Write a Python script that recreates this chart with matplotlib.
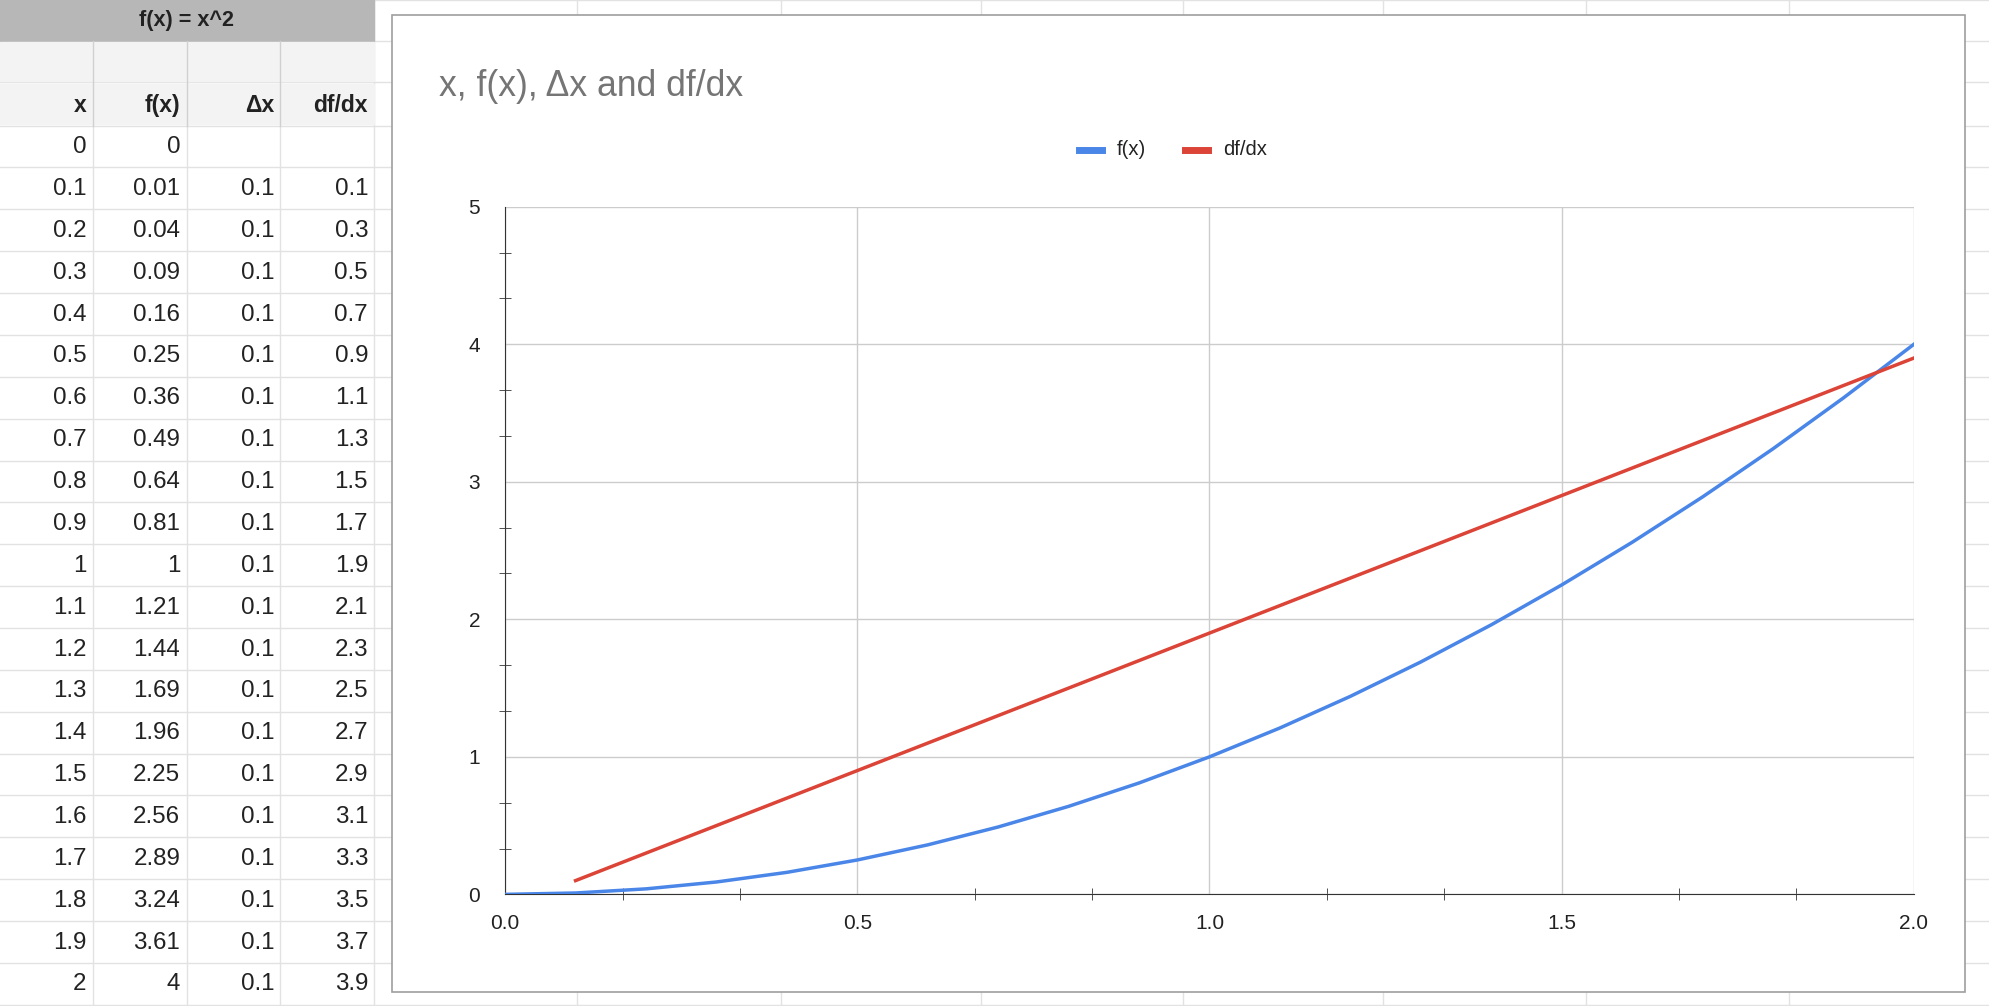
import matplotlib
matplotlib.use("Agg")
import matplotlib.pyplot as plt
from matplotlib.patches import Rectangle
from matplotlib.ticker import MultipleLocator

plt.rcParams['font.family'] = ['Liberation Sans', 'DejaVu Sans']

x_vals = [0, 0.1, 0.2, 0.3, 0.4, 0.5, 0.6, 0.7, 0.8, 0.9, 1, 1.1, 1.2, 1.3, 1.4, 1.5, 1.6, 1.7, 1.8, 1.9, 2]
fx_vals = [0, 0.01, 0.04, 0.09, 0.16, 0.25, 0.36, 0.49, 0.64, 0.81, 1, 1.21, 1.44, 1.69, 1.96, 2.25, 2.56, 2.89, 3.24, 3.61, 4]
dx_vals = [None] + [0.1] * 20
dfdx_vals = [None, 0.1, 0.3, 0.5, 0.7, 0.9, 1.1, 1.3, 1.5, 1.7, 1.9, 2.1, 2.3, 2.5, 2.7, 2.9, 3.1, 3.3, 3.5, 3.7, 3.9]
x_labels = ["0", "0.1", "0.2", "0.3", "0.4", "0.5", "0.6", "0.7", "0.8", "0.9", "1", "1.1", "1.2", "1.3", "1.4", "1.5", "1.6", "1.7", "1.8", "1.9", "2"]
headers = ["x", "f(x)", "Δx", "df/dx"]

W, H = 1990, 1006
S = W / 1568.0
fig = plt.figure(figsize=(W / 100, H / 100), dpi=100)
bg = fig.add_axes([0, 0, 1, 1])
bg.set_xlim(0, 1568); bg.set_ylim(793, 0); bg.axis('off')

def pt(px):
    return px * S * 0.72

grid_c = '#e2e2e2'
for gx in [73, 147, 221, 295, 455, 615, 773, 932, 1090, 1250, 1410, 1568]:
    bg.plot([gx, gx], [0, 793], color=grid_c, lw=1, zorder=1)
rows_y = [0, 32, 65, 99] + [99 + 33 * i for i in range(1, 22)]
for ry in rows_y:
    bg.plot([0, 1568], [ry, ry], color=grid_c, lw=1, zorder=1)
bg.add_patch(Rectangle((0, 0), 295, 32, color='#b7b7b7', zorder=2))
bg.text(147, 16, "f(x) = x^2", ha='center', va='center', fontsize=pt(17), fontweight='bold', color='#222222', zorder=3)
bg.add_patch(Rectangle((0, 33), 295, 31, color='#f3f3f3', zorder=2))
bg.add_patch(Rectangle((0, 66), 295, 32, color='#f3f3f3', zorder=2))
for cx in [73, 147, 221]:
    bg.plot([cx, cx], [32, 99], color='#d0d0d0', lw=1, zorder=2.5)
col_right = [68, 142, 216, 290]
for j, h in enumerate(headers):
    bg.text(col_right[j], 83, h, ha='right', va='center', fontsize=pt(18), fontweight='bold', color='#222222', zorder=3)
for i in range(21):
    yc = 99 + 33 * i + 17
    vals = [x_labels[i], f"{fx_vals[i]:g}",
            "" if dx_vals[i] is None else f"{dx_vals[i]:g}",
            "" if dfdx_vals[i] is None else f"{dfdx_vals[i]:g}"]
    for j, v in enumerate(vals):
        bg.text(col_right[j], yc, v, ha='right', va='center', fontsize=pt(19), color='#222222', zorder=3)

bg.add_patch(Rectangle((309, 12), 1239, 770, facecolor='white', edgecolor='#9e9e9e', lw=1.2, zorder=3))
bg.text(346, 68, "x, f(x), Δx and df/dx", ha='left', va='center', fontsize=pt(28), color='#757575', zorder=4)
bg.plot([850, 868], [118, 118], color='#4a86e8', lw=5, zorder=4)
bg.text(880, 118, "f(x)", va='center', fontsize=pt(16), color='#222222', zorder=4)
bg.plot([934, 952], [118, 118], color='#db4437', lw=5, zorder=4)
bg.text(964, 118, "df/dx", va='center', fontsize=pt(16), color='#222222', zorder=4)

l, r, t, b = 398, 1508, 163, 705
ax = fig.add_axes([l / 1568, 1 - b / 793, (r - l) / 1568, (b - t) / 793], zorder=5)
ax.set_facecolor('none')
ax.plot(x_vals, fx_vals, color='#4a86e8', lw=2.5, zorder=3)
ax.plot(x_vals[1:], dfdx_vals[1:], color='#db4437', lw=2.5, zorder=3)
ax.set_xlim(0, 2); ax.set_ylim(0, 5)
ax.xaxis.set_major_locator(MultipleLocator(0.5))
ax.xaxis.set_minor_locator(MultipleLocator(1 / 6))
ax.yaxis.set_major_locator(MultipleLocator(1))
ax.yaxis.set_minor_locator(MultipleLocator(1 / 3))
ax.grid(True, which='major', color='#cccccc', lw=1)
ax.set_xticks([0, 0.5, 1.0, 1.5, 2.0])
ax.set_xticklabels(["0.0", "0.5", "1.0", "1.5", "2.0"])
for sp in ['top', 'right']:
    ax.spines[sp].set_visible(False)
ax.spines['left'].set_color('#333333'); ax.spines['bottom'].set_color('#333333')
ax.tick_params(axis='both', which='both', direction='inout', color='#333333', labelsize=pt(16.5), labelcolor='#222222')
ax.tick_params(axis='both', which='major', length=0, pad=14)
ax.tick_params(axis='x', which='minor', length=8)
ax.tick_params(axis='y', which='minor', length=8)
ax.tick_params(axis='y', which='major', pad=18)

fig.savefig("out.png", dpi=100)
